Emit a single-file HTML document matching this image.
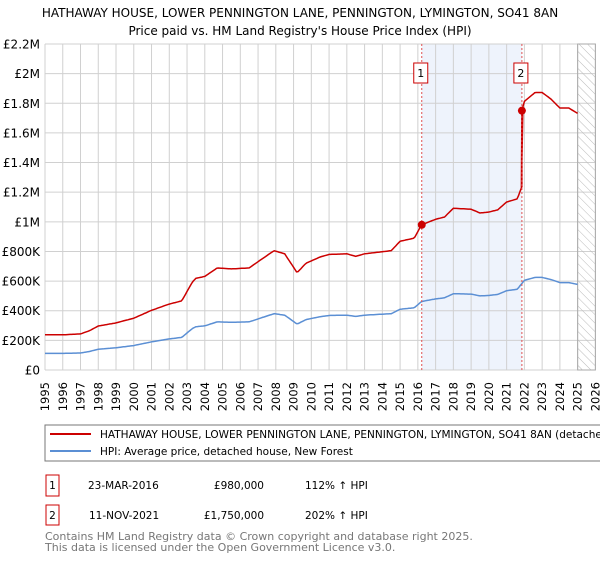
<!DOCTYPE html>
<html><head><meta charset="utf-8"><style>
body{margin:0;background:#fff;width:600px;height:560px;overflow:hidden;font-family:"DejaVu Sans","Liberation Sans",sans-serif}
svg text{font-family:"DejaVu Sans","Liberation Sans",sans-serif}
</style></head><body>
<svg id="c" width="600" height="560" viewBox="0 0 600 560">
<text x="300" y="17" font-size="12" text-anchor="middle" fill="#000">HATHAWAY HOUSE, LOWER PENNINGTON LANE, PENNINGTON, LYMINGTON, SO41 8AN</text>
<text x="300" y="35" font-size="12" text-anchor="middle" fill="#000">Price paid vs. HM Land Registry's House Price Index (HPI)</text>
<defs><pattern id="hatch" width="6" height="6" patternUnits="userSpaceOnUse" patternTransform="rotate(-45)"><line x1="0" y1="0" x2="0" y2="6" stroke="#bbb" stroke-width="1"/></pattern></defs>
<g id="grid"></g><g id="marks"></g>
<rect x="45" y="425" width="560" height="36" fill="#fff" stroke="#777"/>
<line x1="50" y1="434" x2="91" y2="434" stroke="#cc0000" stroke-width="2"/>
<text x="100" y="438" font-size="10.5">HATHAWAY HOUSE, LOWER PENNINGTON LANE, PENNINGTON, LYMINGTON, SO41 8AN (detached house)</text>
<line x1="50" y1="451" x2="91" y2="451" stroke="#5b8fd4" stroke-width="2"/>
<text x="100" y="455" font-size="10.5">HPI: Average price, detached house, New Forest</text>
<g font-size="10.5">
<rect x="46" y="475" width="13" height="21" fill="#fff" stroke="#cc0000"/>
<text x="52.5" y="489" text-anchor="middle">1</text>
<text x="88" y="489">23-MAR-2016</text>
<text x="264" y="489" text-anchor="end">£980,000</text>
<text x="305" y="489">112% ↑ HPI</text>
<rect x="46" y="505" width="13" height="20" fill="#fff" stroke="#cc0000"/>
<text x="52.5" y="519" text-anchor="middle">2</text>
<text x="89" y="519">11-NOV-2021</text>
<text x="264" y="519" text-anchor="end">£1,750,000</text>
<text x="305" y="519">202% ↑ HPI</text>
</g>
<text x="45" y="540" font-size="11" fill="#777">Contains HM Land Registry data © Crown copyright and database right 2025.</text>
<text x="45" y="551" font-size="11" fill="#777">This data is licensed under the Open Government Licence v3.0.</text>
</svg>
<script>
const hpiYears=[1995,1996,1997,1997.5,1998,1999,2000,2001,2002,2002.7,2003.3,2003.5,2004,2004.7,2005.5,2006.5,2007,2007.9,2008.5,2009.2,2009.7,2010.5,2011,2012,2012.5,2013,2014.5,2015,2015.8,2016.2,2017,2017.5,2018,2019,2019.5,2020,2020.5,2021,2021.6,2022,2022.6,2023,2023.5,2024,2024.5,2025];
const hpiValues=[112000,112000,115000,125000,140000,150000,165000,190000,210000,220000,280000,292000,298000,325000,322000,325000,345000,380000,370000,310000,340000,360000,368000,370000,362000,370000,380000,410000,420000,462000,480000,487000,515000,512000,500000,503000,510000,535000,545000,605000,625000,625000,610000,590000,590000,578000];
const saleDates=[2016.22,2021.86];
const salePrices=[980000,1750000];
const saleLabels=["1","2"];
const yTicks=[0,200000,400000,600000,800000,1000000,1200000,1400000,1600000,1800000,2000000,2200000];
const yTickLabels=["£0","£200K","£400K","£600K","£800K","£1M","£1.2M","£1.4M","£1.6M","£1.8M","£2M","£2.2M"];
const xTicks=[];for(let y=1995;y<=2026;y++)xTicks.push(y);

const X0=45,X1=595.4,Y0=370,Y1=44;
const xs=t=>X0+(t-1995)/(2026-1995)*(X1-X0);
const ys=v=>Y0-v/2200000*(Y0-Y1);
const NS='http://www.w3.org/2000/svg';
function mk(p,tag,a){const e=document.createElementNS(NS,tag);for(const k in a)e.setAttribute(k,a[k]);p.appendChild(e);return e;}
function hpiAt(t){if(t<=hpiYears[0])return hpiValues[0];for(let i=1;i<hpiYears.length;i++){if(t<=hpiYears[i]){const f=(t-hpiYears[i-1])/(hpiYears[i]-hpiYears[i-1]);return hpiValues[i-1]+f*(hpiValues[i]-hpiValues[i-1]);}}return hpiValues[hpiValues.length-1];}
const g=document.getElementById('grid'),m=document.getElementById('marks');
let s=mk(g,'rect',{x:xs(saleDates[0]),y:Y1,width:xs(saleDates[1])-xs(saleDates[0]),height:Y0-Y1,fill:'#eef3fc'});


xTicks.forEach(t=>{const l=mk(g,'line',{x1:xs(t),x2:xs(t),y1:Y1,y2:Y0,stroke:'#d0d0d0'});


const x=xs(t);const tx=mk(g,'text',{x:0,y:0,'font-size':'11.5','text-anchor':'end',transform:`translate(${x+4},382) rotate(-90)`});tx.textContent=t;

});
yTicks.forEach((v,i)=>{const l=mk(g,'line',{x1:X0,x2:X1,y1:ys(v),y2:ys(v),stroke:'#d0d0d0'});


const tx=mk(g,'text',{x:40,y:ys(v)+4.5,'font-size':'12','text-anchor':'end'});tx.textContent=yTickLabels[i];

});
const h=mk(g,'rect',{x:xs(2025),y:Y1,width:X1-xs(2025),height:Y0-Y1,fill:'url(#hatch)',stroke:'#aaa'});


// HPI line
let pts=[];for(let t=1995;t<=2025.001;t+=1/12)pts.push(xs(t).toFixed(1)+','+ys(hpiAt(t)).toFixed(1));
const hl=mk(m,'polyline',{points:pts.join(' '),fill:'none',stroke:'#5b8fd4','stroke-width':1.5});


// property line
const r1=salePrices[0]/hpiAt(saleDates[0]),r2=salePrices[1]/hpiAt(saleDates[1]);
pts=[];for(let t=1995;t<=2025.001;t+=1/12){
 if(t<saleDates[1]&&t+1/12>saleDates[1]){pts.push(xs(saleDates[1])+','+ys(hpiAt(saleDates[1])*r1));pts.push(xs(saleDates[1])+','+ys(salePrices[1]));}
 const r=t<saleDates[1]?r1:r2;pts.push(xs(t).toFixed(1)+','+ys(hpiAt(t)*r).toFixed(1));}
const pl=mk(m,'polyline',{points:pts.join(' '),fill:'none',stroke:'#cc0000','stroke-width':1.5});


saleDates.forEach((d,i)=>{
 const vl=mk(m,'line',{x1:xs(d),x2:xs(d),y1:Y1,y2:Y0,stroke:'#e05050','stroke-dasharray':'2,2','stroke-width':1});
 
 
 const c=mk(m,'circle',{cx:xs(d),cy:ys(salePrices[i]),r:4,fill:'#cc0000'});
 
 
 const b=mk(m,'rect',{x:xs(d)-8,y:63,width:14,height:20,fill:'#fff',stroke:'#cc0000'});
 
 
 const tt=mk(m,'text',{x:xs(d)-1,y:77,'font-size':'11','text-anchor':'middle'});tt.textContent=saleLabels[i];
 
 
});
</script>
</body></html>
